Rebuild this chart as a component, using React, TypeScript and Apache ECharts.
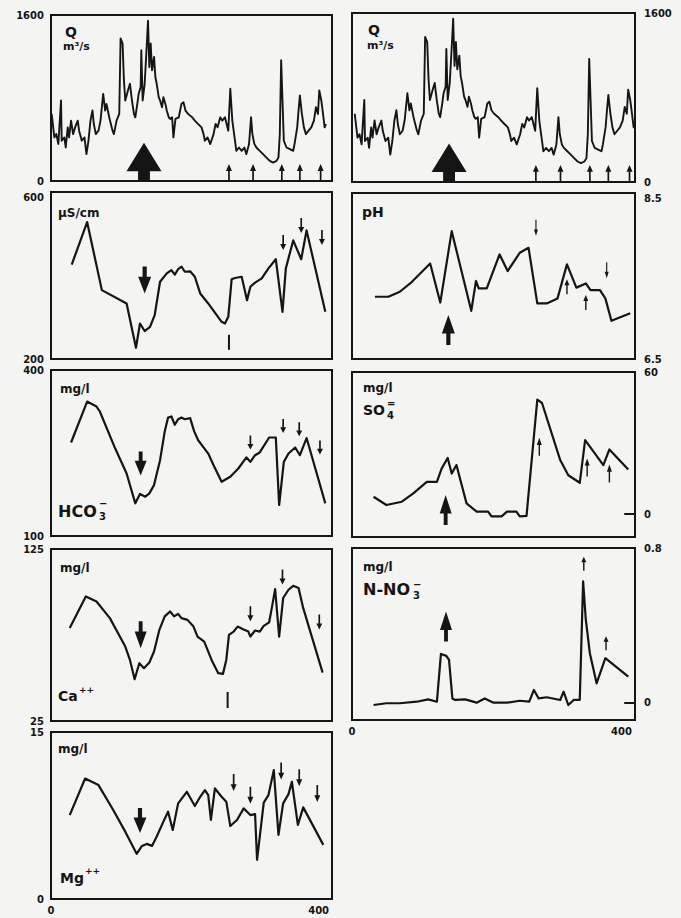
import { useEffect, useRef } from 'react';
import * as echarts from 'echarts';

// ---------------- data (x = day, y = value) ----------------
const dischargeQ: number[][] = [
  [1, 646], [5, 420], [8, 452], [11, 356], [15, 776], [16, 388], [20, 420], [22, 323], [25, 517], [27, 420],
  [30, 582], [33, 452], [36, 517], [40, 582], [42, 485], [46, 388], [50, 420], [53, 259], [56, 388], [59, 582],
  [62, 679], [64, 549], [67, 452], [71, 485], [74, 582], [78, 840], [81, 679], [83, 743], [87, 614], [92, 485],
  [94, 452], [98, 582], [102, 646], [104, 1374], [107, 1325], [109, 970], [111, 776], [115, 873], [118, 937], [121, 776],
  [124, 646], [126, 614], [129, 743], [131, 840], [134, 905], [135, 1260], [137, 776], [140, 937], [143, 1293], [145, 1545],
  [147, 1099], [149, 1325], [151, 1067], [154, 1196], [156, 1002], [158, 937], [161, 808], [163, 776], [166, 711], [168, 808],
  [171, 743], [173, 679], [176, 614], [178, 598], [181, 614], [183, 420], [186, 598], [191, 614], [195, 743], [198, 760],
  [201, 679], [205, 646], [208, 630], [211, 614], [215, 582], [220, 549], [225, 517], [228, 452], [230, 388], [234, 420],
  [238, 356], [243, 452], [246, 549], [249, 517], [253, 614], [256, 582], [260, 614], [265, 485], [268, 889], [271, 582],
  [275, 388], [277, 291], [281, 323], [285, 291], [289, 323], [292, 259], [296, 356], [299, 614], [301, 452], [304, 356],
  [307, 323], [312, 291], [317, 259], [322, 226], [327, 194], [332, 178], [337, 194], [340, 226], [342, 452], [344, 1164],
  [346, 776], [348, 388], [352, 323], [357, 307], [362, 291], [364, 356], [368, 517], [370, 679], [372, 824], [375, 646],
  [378, 517], [381, 452], [385, 485], [389, 517], [393, 582], [396, 711], [399, 646], [401, 873], [404, 776], [406, 679],
  [409, 517], [411, 549],
];

const conductivity: number[][] = [
  [31, 426], [54, 528], [76, 365], [113, 333], [127, 227], [133, 285], [140, 267], [148, 277], [155, 305], [163, 385],
  [173, 405], [180, 413], [185, 402], [190, 415], [195, 421], [200, 409], [208, 410], [215, 397], [223, 357], [235, 333],
  [255, 289], [260, 285], [265, 301], [270, 391], [275, 394], [285, 397], [293, 341], [298, 373], [305, 383], [315, 393],
  [325, 417], [336, 439], [346, 313], [351, 417], [362, 484], [374, 439], [382, 508], [410, 313],
];

const phValues: number[][] = [
  [34, 7.25], [54, 7.25], [71, 7.31], [89, 7.43], [116, 7.65], [131, 7.18], [148, 8.04], [177, 7.08], [184, 7.44], [188, 7.35],
  [200, 7.35], [219, 7.76], [231, 7.56], [249, 7.78], [262, 7.84], [275, 7.17], [289, 7.17], [305, 7.23], [319, 7.64], [333, 7.36],
  [347, 7.41], [354, 7.33], [368, 7.33], [376, 7.23], [385, 6.96], [413, 7.05],
];

const bicarbonate: number[][] = [
  [30, 269], [54, 343], [68, 334], [73, 325], [96, 258], [113, 213], [126, 159], [133, 176], [141, 171], [147, 177],
  [154, 192], [163, 237], [170, 289], [175, 314], [180, 316], [185, 301], [190, 311], [195, 314], [200, 311], [208, 313],
  [214, 289], [220, 273], [228, 260], [235, 249], [243, 228], [255, 198], [268, 207], [280, 222], [292, 242], [298, 234],
  [305, 246], [312, 251], [326, 278], [336, 278], [341, 156], [348, 234], [355, 249], [365, 260], [372, 246], [382, 277],
  [410, 159],
];

const sulphate: number[][] = [
  [32, 7.3], [51, 3.8], [74, 5.2], [91, 8.7], [111, 13.6], [126, 13.6], [133, 19.2], [142, 23.7], [148, 17.1], [155, 20.7],
  [170, 4.5], [185, 1.0], [202, 1.0], [207, -1], [222, -1], [230, 1.0], [244, 1.0], [249, -1], [259, -0.8], [275, 48.3],
  [282, 46.9], [309, 22.8], [321, 16.4], [338, 13.2], [346, 31.2], [373, 20.7], [382, 27.3], [410, 18.8],
];

const calcium: number[][] = [
  [28, 79.0], [52, 97.4], [68, 94.5], [88, 84.8], [111, 68.3], [118, 60.5], [125, 49.3], [132, 58.6], [139, 55.7], [147, 59.0],
  [154, 65.4], [162, 78.0], [170, 85.8], [178, 88.7], [184, 85.8], [190, 87.3], [195, 84.8], [204, 83.8], [213, 79.9], [219, 74.1],
  [229, 71.2], [240, 60.5], [250, 52.8], [257, 52.4], [262, 60.5], [266, 75.1], [273, 77.0], [279, 79.9], [287, 78.4], [295, 77.0],
  [298, 74.1], [305, 77.6], [312, 77.0], [318, 80.3], [326, 82.3], [330, 90.6], [335, 101.7], [341, 74.1], [347, 96.5], [355, 101.3],
  [362, 103.6], [370, 102.3], [377, 90.6], [406, 53.1],
];

const nitrate: number[][] = [
  [32, -0.012], [51, -0.003], [71, -0.003], [96, 0.005], [113, 0.017], [126, 0.005], [132, 0.252], [140, 0.242], [144, 0.221], [149, 0.022],
  [153, 0.014], [168, 0.017], [185, 0], [197, 0.022], [210, 0], [230, 0], [249, 0.01], [263, 0.005], [270, 0.066], [277, 0.022],
  [289, 0.028], [309, 0.014], [314, 0.057], [321, -0.012], [329, 0.014], [338, 0.014], [343, 0.627], [347, 0.429], [353, 0.256], [363, 0.1],
  [376, 0.23], [410, 0.135],
];

const magnesium: number[][] = [
  [28, 7.54], [51, 10.82], [71, 10.23], [93, 7.99], [111, 6.05], [128, 4.06], [136, 4.77], [143, 4.95], [151, 4.77], [158, 5.61],
  [168, 6.95], [175, 7.84], [182, 6.2], [190, 8.59], [203, 9.63], [215, 8.35], [223, 9.18], [230, 9.78], [235, 9.33], [239, 7.1],
  [245, 9.93], [255, 9.18], [262, 8.74], [268, 6.56], [278, 7.1], [288, 8.14], [293, 7.84], [298, 7.54], [305, 7.63], [308, 3.52],
  [318, 8.65], [325, 9.33], [333, 11.57], [340, 5.76], [347, 8.59], [355, 9.42], [360, 10.53], [369, 6.65], [377, 8.23], [407, 4.86],
];

// arrow / marker positions [x, y-centre]
const qBigUp = [[139, 185]];
const qSmallUp = [[266, 81], [302, 81], [345, 81], [372, 81], [403, 81]];
const condBigDown = [[140, 389]];
const condSmallDown = [[347, 479], [374, 520], [405, 491]];
const condBars = [[266, 240]];
const phBigUp = [[143, 6.85]];
const phSmallUp = [[319, 7.37], [347, 7.18]];
const phSmallDown = [[273, 8.08], [378, 7.57]];
const hco3BigDown = [[134, 231]];
const hco3SmallDown = [[298, 269], [347, 299], [371, 293], [402, 260]];
const so4BigUp = [[139, 1.7]];
const so4SmallUp = [[278, 28.4], [349, 19.7], [382, 17.1]];
const caBigDown = [[134, 75.1]];
const caSmallDown = [[298, 87.3], [346, 108.7], [401, 82.5]];
const caBars = [[264, 37.2]];
const no3BigUp = [[139.5, 0.394]];
const no3SmallUp = [[344, 0.719], [377, 0.308]];
const mgBigDown = [[133, 7.04]];
const mgSmallDown = [[273, 10.47], [298, 9.33], [344, 11.5], [371, 10.9], [398, 9.48]];

// zero-level tick segments (x from, x to) for SO4 and N-NO3
const zeroTickSpan = [404, 420];

// tick labels
const xTickLabels = [0, 400];
const qLabels = [0, 1600];
const condLabels = [200, 600];
const phLabels = [6.5, 8.5];
const hco3Labels = [100, 400];
const so4Labels = [0, 60];
const caLabels = [25, 125];
const no3Labels = [0, 0.8];
const mgLabels = [0, 15];

// ---------------- styling ----------------
const INK = '#151515';
const BG = '#f4f4f2';
const FONT = 'DejaVu Sans';

const Q_ARROW = 'path://M50,0 L100,75 L67,75 L67,100 L33,100 L33,75 L0,75 Z';
const BIG_UP = 'path://M50,0 L100,62 L66,62 L66,100 L34,100 L34,62 L0,62 Z';
const BIG_DOWN = 'path://M34,0 L66,0 L66,38 L100,38 L50,100 L0,38 L34,38 Z';
const SMALL_UP = 'path://M50,0 L100,40 L64,40 L64,100 L36,100 L36,40 L0,40 Z';
const SMALL_DOWN = 'path://M36,0 L64,0 L64,60 L100,60 L50,100 L0,60 L36,60 Z';

type Mark = { symbol: string; size: number[]; data: number[][] };
type Panel = {
  grid: { left: number; top: number; width: number; height: number };
  xMin: number; xMax: number; yMin: number; yMax: number;
  side: 'left' | 'right';
  yLabels: number[];
  zeroTick?: boolean;
  xLabels?: boolean;
  alignTop?: boolean;
  line: number[][];
  lineWidth: number;
  marks: Mark[];
};

const panels: Panel[] = [
  {
    grid: { left: 51, top: 15, width: 281, height: 166 }, xMin: 0, xMax: 420, yMin: 0, yMax: 1600,
    side: 'left', yLabels: qLabels, line: dischargeQ, lineWidth: 1.9,
    marks: [{ symbol: Q_ARROW, size: [35, 38], data: qBigUp }, { symbol: SMALL_UP, size: [6, 17], data: qSmallUp }],
  },
  {
    grid: { left: 352, top: 13, width: 283, height: 169 }, xMin: -3, xMax: 411, yMin: 0, yMax: 1600,
    side: 'right', yLabels: qLabels, line: dischargeQ, lineWidth: 1.9,
    marks: [{ symbol: Q_ARROW, size: [35, 38], data: qBigUp }, { symbol: SMALL_UP, size: [6, 17], data: qSmallUp }],
  },
  {
    grid: { left: 51, top: 192, width: 281, height: 167 }, xMin: 0, xMax: 420, yMin: 200, yMax: 600,
    side: 'left', yLabels: condLabels, alignTop: true, line: conductivity, lineWidth: 2.2,
    marks: [
      { symbol: BIG_DOWN, size: [13, 27], data: condBigDown },
      { symbol: SMALL_DOWN, size: [6, 15], data: condSmallDown },
      { symbol: 'rect', size: [2, 15], data: condBars },
    ],
  },
  {
    grid: { left: 352, top: 193, width: 283, height: 166 }, xMin: 0, xMax: 420, yMin: 6.5, yMax: 8.5,
    side: 'right', yLabels: phLabels, alignTop: true, line: phValues, lineWidth: 2.2,
    marks: [
      { symbol: BIG_UP, size: [13, 30], data: phBigUp },
      { symbol: SMALL_UP, size: [5, 15], data: phSmallUp },
      { symbol: SMALL_DOWN, size: [4, 16], data: phSmallDown },
    ],
  },
  {
    grid: { left: 51, top: 370, width: 281, height: 166 }, xMin: 0, xMax: 420, yMin: 100, yMax: 400,
    side: 'left', yLabels: hco3Labels, line: bicarbonate, lineWidth: 2.2,
    marks: [
      { symbol: BIG_DOWN, size: [12, 24], data: hco3BigDown },
      { symbol: SMALL_DOWN, size: [6, 14], data: hco3SmallDown },
    ],
  },
  {
    grid: { left: 352, top: 372, width: 283, height: 165 }, xMin: 0, xMax: 420, yMin: -9.7, yMax: 60,
    side: 'right', yLabels: so4Labels, zeroTick: true, line: sulphate, lineWidth: 2.2,
    marks: [
      { symbol: BIG_UP, size: [12, 30], data: so4BigUp },
      { symbol: SMALL_UP, size: [5, 18], data: so4SmallUp },
    ],
  },
  {
    grid: { left: 51, top: 549, width: 281, height: 172 }, xMin: 0, xMax: 420, yMin: 25, yMax: 125,
    side: 'left', yLabels: caLabels, line: calcium, lineWidth: 2.2,
    marks: [
      { symbol: BIG_DOWN, size: [12, 27], data: caBigDown },
      { symbol: SMALL_DOWN, size: [6, 15], data: caSmallDown },
      { symbol: 'rect', size: [2, 16], data: caBars },
    ],
  },
  {
    grid: { left: 352, top: 548, width: 283, height: 172 }, xMin: 0, xMax: 420, yMin: -0.0896, yMax: 0.8,
    side: 'right', yLabels: no3Labels, zeroTick: true, xLabels: true, line: nitrate, lineWidth: 2.2,
    marks: [
      { symbol: BIG_UP, size: [12, 30], data: no3BigUp },
      { symbol: SMALL_UP, size: [5, 14], data: no3SmallUp },
    ],
  },
  {
    grid: { left: 51, top: 732, width: 281, height: 167 }, xMin: 0, xMax: 420, yMin: 0, yMax: 15,
    side: 'left', yLabels: mgLabels, xLabels: true, line: magnesium, lineWidth: 2.2,
    marks: [
      { symbol: BIG_DOWN, size: [13, 25], data: mgBigDown },
      { symbol: SMALL_DOWN, size: [6, 17], data: mgSmallDown },
    ],
  },
];

type Label = { t: string; x: number; y: number; s: number };
const panelTexts: Label[] = [
  { t: 'Q', x: 65, y: 32, s: 14 }, { t: 'm³/s', x: 63, y: 46, s: 11 },
  { t: 'Q', x: 368, y: 30, s: 14 }, { t: 'm³/s', x: 367, y: 45, s: 11 },
  { t: 'µS/cm', x: 58, y: 213, s: 12 },
  { t: 'pH', x: 362, y: 212, s: 14 },
  { t: 'mg/l', x: 60, y: 389, s: 12 },
  { t: 'HCO', x: 58, y: 511, s: 16 }, { t: '3', x: 99, y: 516, s: 10 }, { t: '−', x: 99, y: 503, s: 10 },
  { t: 'mg/l', x: 363, y: 388, s: 12 },
  { t: 'SO', x: 363, y: 410, s: 14 }, { t: '4', x: 387, y: 415, s: 10 }, { t: '=', x: 387, y: 403, s: 10 },
  { t: 'mg/l', x: 60, y: 568, s: 12 },
  { t: 'Ca', x: 58, y: 696, s: 14 }, { t: '++', x: 79, y: 690, s: 9 },
  { t: 'mg/l', x: 363, y: 567, s: 12 },
  { t: 'N-NO', x: 363, y: 589, s: 16 }, { t: '3', x: 413, y: 595, s: 10 }, { t: '−', x: 413, y: 584, s: 10 },
  { t: 'mg/l', x: 58, y: 749, s: 12 },
  { t: 'Mg', x: 60, y: 878, s: 14 }, { t: '++', x: 85, y: 871, s: 9 },
];

function buildOption(): echarts.EChartsOption {
  const labelStyle = {
    color: INK, fontSize: 10, fontWeight: 'bold' as const, fontFamily: FONT,
    formatter: (v: number) => String(v),
  };
  const series: any[] = [];
  panels.forEach((p, i) => {
    series.push({
      type: 'line', xAxisIndex: i, yAxisIndex: i, data: p.line, showSymbol: false, symbol: 'none',
      lineStyle: { color: INK, width: p.lineWidth, join: 'round' }, silent: true, z: 3,
      markLine: p.zeroTick
        ? {
            silent: true, symbol: ['none', 'none'], label: { show: false },
            lineStyle: { color: INK, width: 2, type: 'solid' },
            data: [[{ coord: [zeroTickSpan[0], 0] }, { coord: [zeroTickSpan[1], 0] }]],
          }
        : undefined,
    });
    p.marks.forEach((m) => {
      series.push({
        type: 'scatter', xAxisIndex: i, yAxisIndex: i, data: m.data, symbol: m.symbol, symbolSize: m.size,
        itemStyle: { color: INK, opacity: 1 }, silent: true, z: 4, clip: false,
      });
    });
  });
  return {
    animation: false,
    backgroundColor: BG,
    grid: panels.map((p) => ({
      ...p.grid, show: true, borderColor: INK, borderWidth: 2, backgroundColor: 'transparent', containLabel: false,
    })),
    xAxis: panels.map((p, i) => ({
      type: 'value', gridIndex: i, min: p.xMin, max: p.xMax,
      axisLine: { show: false }, axisTick: { show: false }, splitLine: { show: false },
      axisLabel: p.xLabels ? { show: true, customValues: xTickLabels, margin: 6, ...labelStyle } : { show: false },
    })),
    yAxis: panels.map((p, i) => ({
      type: 'value', gridIndex: i, position: p.side, min: p.yMin, max: p.yMax,
      axisLine: { show: false }, splitLine: { show: false }, axisTick: { show: false },
      axisLabel: {
        show: true, customValues: p.yLabels, margin: p.side === 'left' ? 7 : 9,
        ...(p.alignTop ? { verticalAlignMaxLabel: 'top' } : {}),
        ...labelStyle,
      },
    })),
    graphic: panelTexts.map((l) => ({
      type: 'text', x: l.x, y: l.y, silent: true, z: 10,
      style: {
        text: l.t, fontSize: l.s, fontWeight: 'bold', fontFamily: FONT, fill: INK,
        align: 'left', verticalAlign: 'middle', textAlign: 'left', textVerticalAlign: 'middle',
      },
    })),
    series,
  } as echarts.EChartsOption;
}

export default function App() {
  const ref = useRef<HTMLDivElement>(null);
  useEffect(() => {
    if (!ref.current) return;
    const chart = echarts.init(ref.current, undefined, { renderer: 'svg' });
    chart.setOption(buildOption());
    return () => chart.dispose();
  }, []);
  return (
    <div
      ref={ref}
      style={{ position: 'absolute', left: 0, top: 0, width: 681, height: 918, background: BG }}
    />
  );
}
